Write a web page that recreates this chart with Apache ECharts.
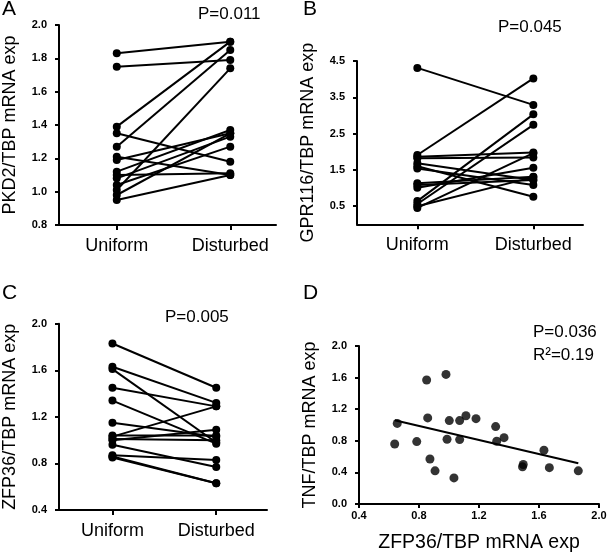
<!DOCTYPE html>
<html><head><meta charset="utf-8">
<script src="https://cdn.jsdelivr.net/npm/echarts@6/dist/echarts.min.js"></script>
<style>html,body{margin:0;padding:0;background:#fff}#c{width:610px;height:554px}</style>
</head><body><div id="c"></div>
<script>
// ---- data ----
const groups = ['Uniform', 'Disturbed'];
const pkd2Uniform   = [1.83, 1.75, 1.39, 1.35, 1.27, 1.21, 1.19, 1.12, 1.10, 1.08, 1.04, 1.01, 0.98, 0.95];
const pkd2Disturbed = [1.90, 1.79, 1.90, 1.18, 1.85, 1.10, 1.35, 1.37, 1.11, 1.33, 1.27, 1.74, 1.35, 1.10];
const gprUniform    = [4.31, 1.91, 1.86, 1.82, 1.68, 1.60, 1.54, 1.13, 1.08, 1.01, 0.64, 0.56, 0.50, 0.45];
const gprDisturbed  = [3.29, 4.02, 1.98, 1.84, 1.22, 0.76, 1.08, 1.31, 1.22, 1.56, 3.03, 2.74, 1.30, 1.96];
const zfpUniform    = [1.83, 1.63, 1.61, 1.45, 1.34, 1.15, 1.03, 1.04, 1.01, 0.96, 0.87, 0.86, 0.85, 1.00];
const zfpDisturbed  = [1.45, 1.32, 0.98, 1.29, 0.97, 1.03, 1.29, 1.04, 1.00, 0.77, 0.83, 0.63, 0.63, 1.09];
const scatterZfp = [0.655, 0.638, 0.785, 0.851, 0.858, 0.873, 0.907, 0.980, 1.002, 0.987, 1.033, 1.071, 1.071, 1.113, 1.180, 1.311, 1.318, 1.367, 1.495, 1.490, 1.633, 1.669, 1.862];
const scatterTnf = [1.02, 0.76, 0.79, 1.57, 1.09, 0.57, 0.42, 1.64, 1.056, 0.82, 0.33, 1.056, 0.815, 1.117, 1.08, 0.98, 0.795, 0.84, 0.50, 0.47, 0.68, 0.46, 0.42];
const pValues = ['P=0.011', 'P=0.045', 'P=0.005', 'P=0.036'];
const r2Text = 'R\u00B2=0.19';
const panelLetters = ['A', 'B', 'C', 'D'];
const yNames = ['PKD2/TBP mRNA exp', 'GPR116/TBP mRNA exp', 'ZFP36/TBP mRNA exp', 'TNF/TBP mRNA exp'];
const dXName = 'ZFP36/TBP mRNA exp';
const gprTicks = [0.5, 1.5, 2.5, 3.5, 4.5];

// ---- styling helpers ----
const FF = '"Liberation Sans", Arial, sans-serif';
const axisLine = { show: true, onZero: false, lineStyle: { color: '#000', width: 2 } };
const tickLabel = { color: '#000', fontFamily: FF, fontWeight: 'bold', fontSize: 11, margin: 12 };

function pairedX(gridIndex, min, max) {
  return {
    type: 'value', gridIndex, min, max,
    axisLine, splitLine: { show: false },
    axisTick: { show: true, customValues: [0, 1], length: 5, lineStyle: { color: '#000', width: 2 } },
    axisLabel: { customValues: [0, 1], formatter: v => groups[Math.round(v)], color: '#000', fontFamily: FF, fontSize: 18, margin: 12 }
  };
}
function yAx(gridIndex, name, min, max, interval, custom) {
  const a = {
    type: 'value', gridIndex, min, max, name,
    nameLocation: 'middle', nameGap: 40,
    nameTextStyle: { color: '#000', fontFamily: FF, fontSize: 18 },
    axisLine, splitLine: { show: false },
    axisTick: { show: true, length: 4, lineStyle: { color: '#000', width: 2 } },
    axisLabel: Object.assign({ formatter: v => v.toFixed(1) }, tickLabel)
  };
  if (interval) a.interval = interval;
  if (custom) { a.axisTick.customValues = custom; a.axisLabel.customValues = custom; }
  return a;
}
function pairSeries(u, d, idx) {
  return u.map((v, i) => ({
    type: 'line', xAxisIndex: idx, yAxisIndex: idx,
    data: [[0, v], [1, d[i]]],
    symbol: 'circle', symbolSize: 8,
    itemStyle: { color: '#000' }, lineStyle: { color: '#000', width: 2 },
    silent: true, animation: false
  }));
}

// regression for panel D
const n = scatterZfp.length;
const mx = scatterZfp.reduce((a, b) => a + b, 0) / n;
const my = scatterTnf.reduce((a, b) => a + b, 0) / n;
let sxy = 0, sxx = 0;
for (let i = 0; i < n; i++) { sxy += (scatterZfp[i] - mx) * (scatterTnf[i] - my); sxx += (scatterZfp[i] - mx) ** 2; }
const slope = sxy / sxx, intercept = my - slope * mx;
const xLo = Math.min(...scatterZfp), xHi = Math.max(...scatterZfp);

const textEl = (t, left, top, size) => ({ type: 'text', left, top, style: { text: t, fill: '#000', font: size + 'px ' + FF } });

const option = {
  backgroundColor: '#fff',
  animation: false,
  grid: [
    { left: 58, top: 25, width: 218, height: 200 },
    { left: 357, top: 61, width: 226, height: 163.3 },
    { left: 58, top: 323.7, width: 209, height: 186.3 },
    { left: 359, top: 346, width: 240, height: 163.3 }
  ],
  xAxis: [
    pairedX(0, -0.509, 1.403),
    pairedX(1, -0.52, 1.428),
    pairedX(2, -0.515, 1.489),
    { type: 'value', gridIndex: 3, min: 0.4, max: 2.0, interval: 0.4, name: dXName,
      nameLocation: 'middle', nameGap: 29,
      nameTextStyle: { color: '#000', fontFamily: FF, fontSize: 19.5 },
      axisLine, splitLine: { show: false },
      axisTick: { show: true, length: 4, lineStyle: { color: '#000', width: 2 } },
      axisLabel: Object.assign({}, tickLabel, { margin: 6, formatter: v => v.toFixed(1) }) }
  ],
  yAxis: [
    yAx(0, yNames[0], 0.8, 2.0, 0.2),
    yAx(1, yNames[1], 0, 4.5, null, gprTicks),
    yAx(2, yNames[2], 0.4, 2.0, 0.4),
    yAx(3, yNames[3], 0, 2.0, 0.4)
  ],
  series: [
    ...pairSeries(pkd2Uniform, pkd2Disturbed, 0),
    ...pairSeries(gprUniform, gprDisturbed, 1),
    ...pairSeries(zfpUniform, zfpDisturbed, 2),
    { type: 'scatter', xAxisIndex: 3, yAxisIndex: 3, symbolSize: 9,
      itemStyle: { color: '#000' }, data: scatterZfp.map((x, i) => [x, scatterTnf[i]]) },
    { type: 'line', xAxisIndex: 3, yAxisIndex: 3, symbol: 'none',
      lineStyle: { color: '#000', width: 2 },
      data: [[xLo, intercept + slope * xLo], [xHi, intercept + slope * xHi]] }
  ],
  graphic: [
    textEl(panelLetters[0], 2, -1, 21),
    textEl(panelLetters[1], 303, -1, 21),
    textEl(panelLetters[2], 2, 283, 21),
    textEl(panelLetters[3], 303, 283, 21),
    textEl(pValues[0], 198, 6, 17),
    textEl(pValues[1], 498, 19, 17),
    textEl(pValues[2], 165, 309, 17),
    textEl(pValues[3], 533, 324, 17),
    textEl(r2Text, 533, 347, 17)
  ]
};
echarts.init(document.getElementById('c'), null, { renderer: 'canvas' }).setOption(option);
</script>
</body></html>
